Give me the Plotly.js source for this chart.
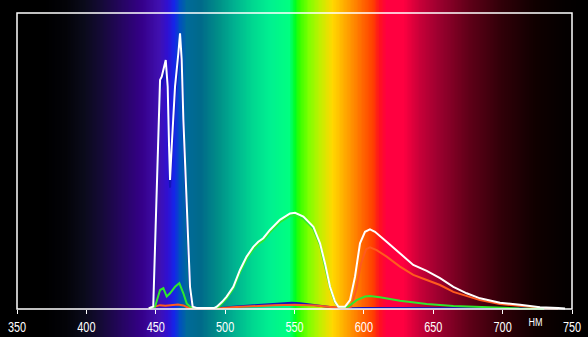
<!DOCTYPE html>
<html>
<head>
<meta charset="utf-8">
<script src="https://cdn.plot.ly/plotly-3.0.1.min.js"></script>
<style>html,body{margin:0;padding:0;background:#000;}#chart{width:588px;height:337px;}</style>
</head>
<body>
<div id="chart"></div>
<script>
// Axis ticks
var tickValues = [350, 400, 450, 500, 550, 600, 650, 700, 750];
var tickLabels = ["350", "400", "450", "500", "550", "600", "650", "700", "750"];
var unitLabel = "НМ";

// Background spectrum stops (wavelength, colour)
var specNm = [337, 370, 385, 398, 410, 425, 440, 452, 458, 463, 467, 472, 482, 495, 506, 520, 532, 546, 550, 553, 560, 568, 577, 588, 597, 606, 611, 616, 628, 640, 652, 675, 699, 723, 743, 762];
var specColors = ["#000000", "#000000", "#030308", "#0a0a1a", "#140a35", "#250560", "#35008a", "#4010b0", "#3010d0", "#1525e8", "#0050c0", "#006a9a", "#006a8a", "#008f88", "#00b090", "#00d890", "#00f090", "#00ff80", "#00ff20", "#30ff00", "#80ff00", "#c0f000", "#ffd800", "#ffa000", "#ff7000", "#ff4000", "#ff1020", "#ff0040", "#ff0040", "#c80038", "#a00030", "#600018", "#300008", "#100000", "#050000", "#000000"];

// White (total) curve
var whiteNm = [445, 448.2, 453.1, 454.3, 457.2, 458.6, 459.6, 460.3, 461.5, 463.9, 466.3, 467.5, 468.7, 469.9, 472.3, 474.7, 476.6, 480, 492, 494, 498, 501.1, 505.9, 510.7, 515.5, 520.3, 523.9, 527.5, 532.3, 539.5, 546.8, 550.4, 556.4, 563.6, 568.4, 572.0, 575.6, 579.2, 581.6, 586.4, 590.0, 593.6, 597.2, 600.8, 604.4, 608.0, 616.4, 626.0, 635.6, 645.3, 654.9, 664.5, 674.1, 683.7, 698.1, 712.5, 726.9, 740, 745];
var whiteVal = [0.3, 0.8, 77.4, 78.5, 84.1, 75.1, 54.8, 43.6, 54.8, 75.1, 86.4, 93.1, 84.1, 63.9, 35.8, 7.5, 0.8, 0.3, 0.3, 0.8, 2.5, 4.2, 7.5, 13.2, 17.7, 21.0, 22.7, 23.9, 26.7, 30.1, 32.3, 32.5, 31.2, 27.8, 22.2, 15.4, 7.5, 2.5, 0.8, 0.8, 3.0, 10.9, 22.2, 26.1, 26.9, 26.1, 22.7, 18.8, 14.9, 12.9, 10.4, 7.5, 5.3, 3.6, 2.1, 1.4, 0.6, 0.3, 0.2];

// Green curve
var greenNm = [445, 449.5, 453.1, 455.5, 457.9, 460.3, 463.9, 467.0, 469.9, 472.3, 474.7, 478, 493, 495, 498, 501.1, 505.9, 510.7, 515.5, 520.3, 523.9, 527.5, 532.3, 539.5, 546.8, 550.4, 556.4, 563.6, 568.4, 572, 575.6, 579.2, 581.6, 585, 588.8, 594.8, 600.8, 604.4, 611.6, 626, 645.3, 664.5, 683.7, 712, 730];
var greenVal = [0.3, 0.8, 6.4, 7.0, 4.2, 5.3, 7.5, 8.7, 5.3, 1.9, 0.8, 0.3, 0.3, 0.6, 2.0, 3.6, 6.8, 12.4, 16.9, 20.2, 21.9, 23.1, 25.9, 29.3, 31.5, 31.7, 30.5, 27.1, 21.6, 14.9, 7.2, 2.3, 0.8, 0.6, 0.8, 3.0, 4.2, 4.4, 4.0, 2.8, 1.7, 1.0, 0.6, 0.2, 0.1];

// Red curve
var redNm = [445, 450, 453, 457, 461, 466, 470, 473, 476, 495, 505, 520, 535, 550, 565, 578, 584, 588, 590.8, 594.4, 598.0, 601.6, 604.4, 609.2, 616.4, 626.0, 635.6, 645.3, 654.9, 664.5, 674.1, 683.7, 698, 712.5, 727, 740];
var redVal = [0.2, 0.8, 1.3, 1.1, 1.3, 1.5, 1.2, 0.5, 0.2, 0.2, 0.6, 1.0, 1.3, 1.4, 1.2, 0.6, 0.3, 0.4, 0.8, 6.4, 15.4, 20.2, 20.8, 19.9, 17.7, 14.3, 11.5, 9.8, 8.1, 5.8, 4.4, 3.0, 1.7, 1.0, 0.4, 0.2];

// Blue curve
var blueNm = [445, 448.5, 453.1, 454.3, 457.2, 458.6, 459.6, 460.3, 461.5, 463.9, 466.3, 467.5, 468.7, 469.9, 472.3, 474.7, 476.4, 480, 495, 505.9, 518, 530, 542, 548, 554, 566, 578, 584, 600, 700, 720];
var blueVal = [0.3, 0.8, 74, 75.5, 81, 72, 52, 41, 52, 72, 83, 90, 81, 61, 33, 6, 0.8, 0.3, 0.2, 0.8, 1.2, 1.6, 1.9, 2.1, 1.9, 1.2, 0.6, 0.2, 0.3, 0.3, 0.2];

// ---- build background ----
var zmin = specNm[0], zmax = specNm[specNm.length - 1];
var cs = specNm.map(function (n, i) { return [(n - zmin) / (zmax - zmin), specColors[i]]; });
var bgX = [];
for (var w = zmin; w <= zmax; w += 1) bgX.push(w);

var traces = [
  {type: 'heatmap', x: bgX, y: [-20, 120], z: [bgX, bgX], zmin: zmin, zmax: zmax,
   colorscale: cs, showscale: false, zsmooth: 'best', hoverinfo: 'skip'},
  {type: 'scatter', mode: 'lines', x: blueNm, y: blueVal, line: {color: '#1414b8', width: 2}},
  {type: 'scatter', mode: 'lines', x: redNm, y: redVal, line: {color: '#ff5a1e', width: 2}},
  {type: 'scatter', mode: 'lines', x: greenNm, y: greenVal, line: {color: '#2ee82e', width: 2}},
  {type: 'scatter', mode: 'lines', x: whiteNm, y: whiteVal, line: {color: '#ffffff', width: 2}}
];

var fontFam = '"Liberation Sans Narrow", "Arial Narrow", "Liberation Sans", Arial, sans-serif';

var layout = {
  width: 588, height: 337,
  margin: {l: 0, r: 0, t: 0, b: 0},
  paper_bgcolor: '#000000', plot_bgcolor: '#000000',
  showlegend: false,
  xaxis: {
    range: [337.75, 761.53], showgrid: false, zeroline: false, showline: false,
    anchor: 'free', position: 28 / 337,
    ticks: 'outside', ticklen: 4, tickwidth: 1, tickcolor: '#ffffff',
    ticklabelstandoff: 1,
    tickvals: tickValues, ticktext: tickLabels,
    tickfont: {family: fontFam, size: 14, color: '#ffffff'}
  },
  yaxis: {range: [-9.46, 104.39], showgrid: false, zeroline: false, showline: false, showticklabels: false, ticks: ''},
  shapes: [
    {type: 'rect', xref: 'x', yref: 'y', x0: 350, x1: 750, y0: 0, y1: 100, line: {color: '#ffffff', width: 1.5}, layer: 'above'}
  ],
  annotations: [
    {x: 724, y: -4.4, xref: 'x', yref: 'y', text: unitLabel, showarrow: false,
     font: {family: fontFam, size: 11, color: '#ffffff'}}
  ]
};

function narrow(sel, s) {
  document.querySelectorAll(sel).forEach(function (t) {
    var bb = t.getBBox();
    var cx = bb.x + bb.width / 2;
    var tr = t.getAttribute('transform') || '';
    t.setAttribute('transform', tr + ' translate(' + cx + ',0) scale(' + s + ',1) translate(' + (-cx) + ',0)');
  });
}

Plotly.newPlot('chart', traces, layout, {staticPlot: true, displayModeBar: false}).then(function () {
  narrow('.xtick text', 0.78);
  narrow('.annotation-text', 0.82);
});
</script>
</body>
</html>
